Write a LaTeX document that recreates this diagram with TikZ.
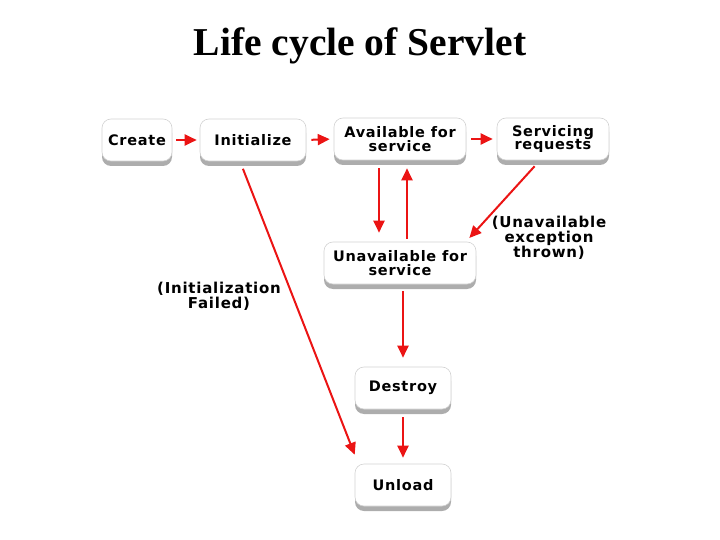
\documentclass[tikz,border=0pt]{standalone}
\usepackage{fontspec}
\usetikzlibrary{arrows.meta,shadows}
\newfontfamily\boxfont{DejaVu Sans}[LetterSpace=5]
\newfontfamily\titlefont{Liberation Serif}
\definecolor{arrred}{RGB}{235,20,20}
\tikzset{
  box/.style={draw=gray!35, line width=0.6pt, rounded corners=9pt, fill=white,
    minimum height=42pt, inner sep=0pt, align=center,
    drop shadow={shadow xshift=0pt, shadow yshift=-5pt, fill=gray!80, opacity=0.8},
    font=\boxfont\bfseries\fontsize{14.5}{13.5}\selectfont},
  lbl/.style={align=center, inner sep=0pt},
  arr/.style={draw=arrred, line width=2pt, -{Triangle[length=12pt,width=11pt]}, arrred}
}
\begin{document}
\begin{tikzpicture}[x=1pt,y=-1pt]
\useasboundingbox (0,0) rectangle (720,540);
\node[lbl, font=\titlefont\bfseries\fontsize{39.5}{39.5}\selectfont] (title) at (360,46) {Life cycle of Servlet};

\node[box, minimum width=70pt]  (create)  at (137,140) {Create};
\node[box, minimum width=106pt] (init)    at (253,140) {Initialize};
\node[box, minimum width=132pt] (avail)   at (400,139) {Available for\\service};
\node[box, minimum width=112pt] (serv)    at (553,139) {Servicing\\requests};
\node[box, minimum width=152pt] (unavail) at (400,263) {Unavailable for\\service};
\node[box, minimum width=96pt]  (destroy) at (403,388) {Destroy};
\node[box, minimum width=96pt]  (unload)  at (403,485) {Unload};

\node[lbl, font=\boxfont\bfseries\fontsize{15}{14.5}\selectfont] (exc) at (549,238) {(Unavailable\\exception\\thrown)};
\node[lbl, font=\boxfont\bfseries\fontsize{15}{15}\selectfont] (fail) at (219,296) {(Initialization\\Failed)};

\draw[arr, shorten <=4pt, shorten >=3pt] (create.east) -- (init.west);
\draw[arr, shorten <=5pt, shorten >=4pt] (init.east) -- (avail.west);
\draw[arr, shorten <=5pt, shorten >=4pt] (avail.east) -- (serv.west);
\draw[arr, shorten <=8pt, shorten >=9pt] ([xshift=-21pt]avail.south) -- ([xshift=-21pt]unavail.north);
\draw[arr, shorten <=3pt, shorten >=8pt] ([xshift=7pt]unavail.north) -- ([xshift=7pt]avail.south);
\draw[arr, shorten <=8pt, shorten >=5pt] ([xshift=-13pt]serv.south) -- ([xshift=66pt]unavail.north);
\draw[arr, shorten <=7pt, shorten >=9pt] ([xshift=3pt]unavail.south) -- (destroy.north);
\draw[arr, shorten <=8pt, shorten >=6pt] (destroy.south) -- (unload.north);
\draw[arr, shorten <=8pt, shorten >=0pt] ([xshift=-13pt]init.south) -- ([yshift=9pt]unload.north west);
\end{tikzpicture}
\end{document}
